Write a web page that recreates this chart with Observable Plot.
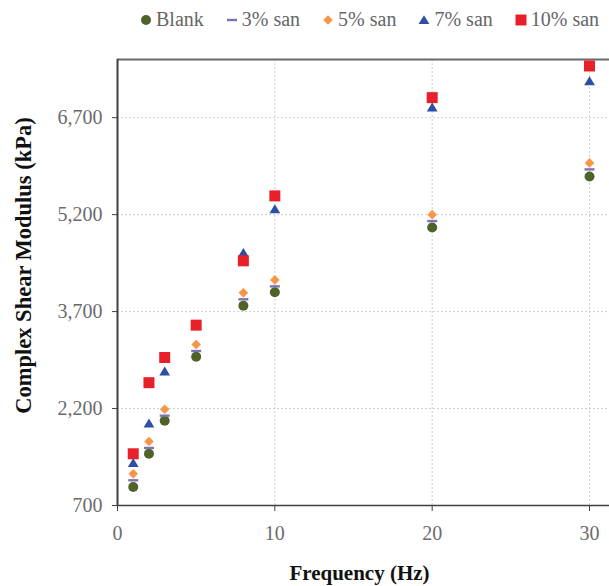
<!DOCTYPE html>
<html>
<head>
<meta charset="utf-8">
<script src="https://cdn.jsdelivr.net/npm/d3@7"></script>
<script src="https://cdn.jsdelivr.net/npm/@observablehq/plot@0.6"></script>
<style>
  html, body { margin: 0; padding: 0; background: #fff; }
  #wrap { position: relative; width: 609px; height: 586px; overflow: hidden; }
  #legend { position: absolute; top: 8px; left: 140px; display: flex; align-items: center;
            font-family: "Liberation Serif", "Times New Roman", serif; font-size: 20px; color: #666; white-space: nowrap; }
  .item { display: flex; align-items: center; margin-right: 22px; }
  .item svg { margin-right: 4px; }
  #chart { position: absolute; top: 0; left: 0; }
</style>
</head>
<body>
<div id="wrap">
  <div id="chart"></div>
  <div id="legend"></div>
</div>
<script>
// ---- data ----
const freq   = [1, 2, 3, 5, 8, 10, 20, 30];
const blank  = [985, 1500, 2010, 3000, 3790, 4000, 5000, 5790];
const san3   = [1090, 1590, 2090, 3090, 3890, 4090, 5100, 5900];
const san5   = [1190, 1690, 2190, 3190, 3990, 4190, 5200, 6000];
const san7   = [1360, 1970, 2775, 3480, 4610, 5285, 6860, 7265];
const san10  = [1500, 2600, 2990, 3490, 4485, 5490, 7010, 7500];
const seriesNames = ["Blank", "3% san", "5% san", "7% san", "10% san"];
const seriesValues = [blank, san3, san5, san7, san10];
const seriesColors = ["#4f6228", "#7e72b4", "#f79646", "#2f4fa6", "#e8202a"];
const xTicks = [0, 10, 20, 30];
const yTicks = [700, 2200, 3700, 5200, 6700];

// ---- symbols ----
const rad = (size) => Math.sqrt(size / Math.PI);
const symbols = [
  {draw(c, s) { const r = rad(s); c.moveTo(r, 0); c.arc(0, 0, r, 0, 2 * Math.PI); }},
  {draw(c, s) { const r = rad(s); c.rect(-r, -1.2, 2 * r, 2.4); }},
  {draw(c, s) { const r = rad(s); c.moveTo(0, -r); c.lineTo(r, 0); c.lineTo(0, r); c.lineTo(-r, 0); c.closePath(); }},
  {draw(c, s) { const r = rad(s); c.moveTo(0, -r * 0.9); c.lineTo(r, r * 0.75); c.lineTo(-r, r * 0.75); c.closePath(); }},
  {draw(c, s) { const r = rad(s); c.rect(-r, -r, 2 * r, 2 * r); }}
];
const radii = [5, 5, 4.8, 5.4, 5.5];

const rows = seriesValues.map((vals, k) => freq.map((f, i) => ({freq: f, value: vals[i], series: seriesNames[k]})));

const dotMarks = rows.map((data, k) => Plot.dot(data, {
  x: "freq", y: "value", symbol: symbols[k], r: radii[k], fill: seriesColors[k], stroke: "none"
}));

const chart = Plot.plot({
  width: 609,
  height: 586,
  marginLeft: 117,
  marginRight: 0,
  marginTop: 59,
  marginBottom: 81,
  style: {fontFamily: "Liberation Serif, Times New Roman, serif", fontSize: "20px", color: "#666", background: "#fff"},
  x: {domain: [0, 31.27]},
  y: {domain: [700, 7600]},
  marks: [
    Plot.gridY(yTicks.slice(1), {stroke: "#cfcfcf", strokeOpacity: 1, strokeDasharray: "2,2"}),
    Plot.gridX(xTicks.slice(1), {stroke: "#cfcfcf", strokeOpacity: 1, strokeDasharray: "2,2"}),
    Plot.axisY(yTicks, {tickSize: 5, tickPadding: 10, tickFormat: d3.format(","), stroke: "#404040", fill: "#6b6b6b", fontSize: 20, label: null}),
    Plot.axisX(xTicks, {tickSize: 6, tickPadding: 14, tickFormat: d3.format("d"), stroke: "#404040", fill: "#6b6b6b", fontSize: 20, label: null}),
    Plot.ruleY([7600], {stroke: "#6a6a6a", strokeWidth: 2}),
    Plot.ruleY([700], {stroke: "#404040", strokeWidth: 1.5}),
    Plot.ruleX([0], {stroke: "#404040", strokeWidth: 2}),
    ...dotMarks,
    Plot.text(["Frequency (Hz)"], {frameAnchor: "bottom", dy: 68, dx: -4, fontSize: 21, fontWeight: "bold", fill: "#111", lineAnchor: "middle", textAnchor: "middle"}),
    Plot.text(["Complex Shear Modulus (kPa)"], {frameAnchor: "left", rotate: -90, dx: -94, dy: -17, fontSize: 22.5, fontWeight: "bold", fill: "#111", lineAnchor: "middle", textAnchor: "middle"})
  ]
});
document.getElementById("chart").appendChild(chart);

// ---- legend ----
const legend = document.getElementById("legend");
seriesNames.forEach((name, k) => {
  const item = document.createElement("div");
  item.className = "item";
  const svg = d3.create("svg").attr("width", 12).attr("height", 12);
  const r = radii[k];
  svg.append("path")
    .attr("transform", "translate(6,6)")
    .attr("d", d3.symbol(symbols[k], Math.PI * r * r)())
    .attr("fill", seriesColors[k]);
  item.appendChild(svg.node());
  const span = document.createElement("span");
  span.textContent = name;
  item.appendChild(span);
  legend.appendChild(item);
});
</script>
</body>
</html>
